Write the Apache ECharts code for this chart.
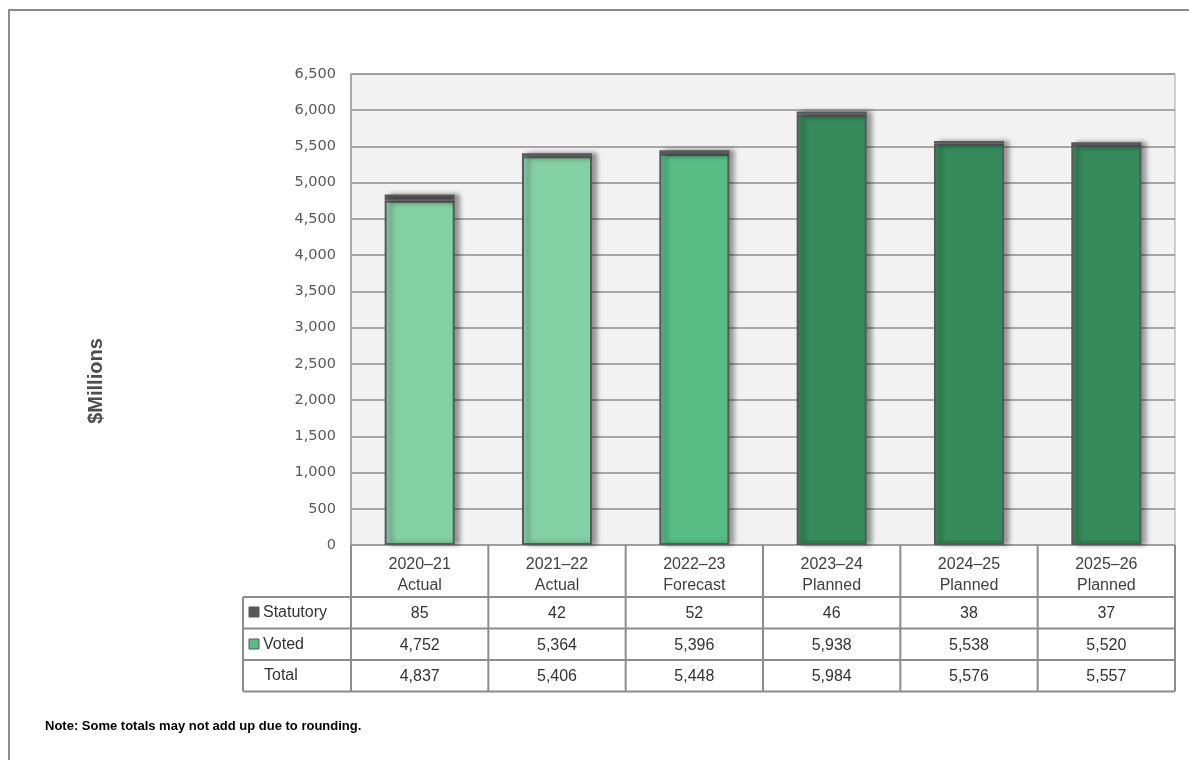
<!DOCTYPE html>
<html>
<head>
<meta charset="utf-8">
<script src="https://cdn.jsdelivr.net/npm/echarts@6/dist/echarts.min.js"></script>
<style>
html,body{margin:0;padding:0;background:#fff;}
#c{width:1189px;height:760px;}
</style>
</head>
<body>
<div id="c"></div>
<script>
var categories = ['2020–21\nActual', '2021–22\nActual', '2022–23\nForecast', '2023–24\nPlanned', '2024–25\nPlanned', '2025–26\nPlanned'];
var statutory = [85, 42, 52, 46, 38, 37];
var voted = [4752, 5364, 5396, 5938, 5538, 5520];
var totals = [4837, 5406, 5448, 5984, 5576, 5557];
var votedColors = ['#84d0a5', '#84d0a5', '#57bd84', '#368a5b', '#368a5b', '#368a5b'];
var statColor = '#58595b';
var rowLabels = ['Statutory', 'Voted', 'Total'];
var yTicks = { min: 0, max: 6500, interval: 500 };

var G = { left: 351, right: 1175, top: 74, bottom: 545 };
var chart = echarts.init(document.getElementById('c'));
var fmt = function (v) { return v.toLocaleString('en-US'); };
var shadow = { shadowColor: 'rgba(0,0,0,0.4)', shadowBlur: 5, shadowOffsetX: 5, shadowOffsetY: 0 };

chart.setOption({
  animation: false,
  grid: { left: G.left, top: G.top, width: G.right - G.left, height: G.bottom - G.top,
          show: true, backgroundColor: '#f2f2f2', borderColor: '#a6a6a6', borderWidth: 1 },
  xAxis: {
    type: 'category', data: categories,
    axisLine: { show: false }, axisTick: { show: false },
    axisLabel: { show: true, margin: 9, fontFamily: 'Liberation Sans, Arial', fontSize: 16, color: '#404040', lineHeight: 21 }
  },
  yAxis: {
    type: 'value', min: yTicks.min, max: yTicks.max, interval: yTicks.interval,
    axisLine: { show: true, lineStyle: { color: '#a6a6a6', width: 2 } },
    axisTick: { show: false },
    axisLabel: { margin: 15, fontFamily: 'DejaVu Sans', fontSize: 14.5, color: '#595959',
                 formatter: function (v) { return fmt(v); } },
    splitLine: { lineStyle: { color: '#8e8e8e', width: 1.5 } }
  },
  series: [
    { name: 'Voted', type: 'bar', stack: 's', barWidth: '51%',
      data: voted.map(function (v, i) { return { value: v, itemStyle: { color: votedColors[i] } }; }),
      itemStyle: Object.assign({ borderColor: '#58595b', borderWidth: 2 }, shadow) },
    { name: 'Statutory', type: 'bar', stack: 's', barWidth: '51%',
      data: statutory,
      itemStyle: Object.assign({ color: statColor, borderColor: '#58595b', borderWidth: 2 }, shadow) }
  ]
});

// Data table built from arrays, aligned to the axis
var colW = (G.right - G.left) / categories.length;
var rowTops = [597, 628.5, 660, 691.5];
var labelLeft = 243;
var lineColor = '#8c8c8c';
var g = [];
function line(x1, y1, x2, y2) {
  g.push({ type: 'line', shape: { x1: x1, y1: y1, x2: x2, y2: y2 }, style: { stroke: lineColor, lineWidth: 2 }, z: 10 });
}
line(G.left, G.bottom, G.left, rowTops[3]);
for (var i = 1; i <= categories.length; i++) {
  var x = G.left + colW * i;
  line(x, G.bottom, x, rowTops[3]);
}
line(labelLeft, rowTops[0], G.right, rowTops[0]);
line(labelLeft, rowTops[1], G.right, rowTops[1]);
line(labelLeft, rowTops[2], G.right, rowTops[2]);
line(labelLeft, rowTops[3], G.right, rowTops[3]);
line(labelLeft, rowTops[0], labelLeft, rowTops[3]);

var rows = [statutory, voted, totals];
var txtStyle = { fontFamily: 'Liberation Sans, Arial', fontSize: 16, fill: '#333333' };
rows.forEach(function (arr, r) {
  var cy = (rowTops[r] + rowTops[r + 1]) / 2;
  arr.forEach(function (v, i) {
    var cx = chart.convertToPixel({ xAxisIndex: 0 }, i);
    g.push({ type: 'text', x: cx, y: cy + 1, style: Object.assign({ text: fmt(v), align: 'center', verticalAlign: 'middle' }, txtStyle), z: 11 });
  });
});
g.push({ type: 'rect', shape: { x: 249, y: 607, width: 10, height: 10 }, style: { fill: statColor, stroke: '#58595b', lineWidth: 1 }, z: 11 });
g.push({ type: 'text', x: 263, y: 613, style: Object.assign({ text: rowLabels[0], align: 'left', verticalAlign: 'middle' }, txtStyle), z: 11 });
g.push({ type: 'rect', shape: { x: 249, y: 639, width: 10, height: 10 }, style: { fill: '#57bd84', stroke: '#58595b', lineWidth: 1 }, z: 11 });
g.push({ type: 'text', x: 263, y: 645, style: Object.assign({ text: rowLabels[1], align: 'left', verticalAlign: 'middle' }, txtStyle), z: 11 });
g.push({ type: 'text', x: 264, y: 676, style: Object.assign({ text: rowLabels[2], align: 'left', verticalAlign: 'middle' }, txtStyle), z: 11 });

// y-axis title
g.push({ type: 'text', x: 96, y: 381, rotation: Math.PI / 2,
         style: { text: '$Millions', fontFamily: 'Liberation Sans, Arial', fontWeight: 'bold', fontSize: 20, fill: '#4d4d4d', align: 'center', verticalAlign: 'middle' }, z: 11 });

// outer frame
g.push({ type: 'rect', shape: { x: 9, y: 10, width: 1200, height: 800 }, style: { fill: 'none', stroke: '#8c8c8c', lineWidth: 2 }, z: 0, silent: true });
// note
g.push({ type: 'text', x: 45, y: 726, style: { text: 'Note: Some totals may not add up due to rounding.', fontFamily: 'Liberation Sans, Arial', fontWeight: 'bold', fontSize: 13, fill: '#000', verticalAlign: 'middle' }, z: 11 });

chart.setOption({ graphic: g });
</script>
</body>
</html>
